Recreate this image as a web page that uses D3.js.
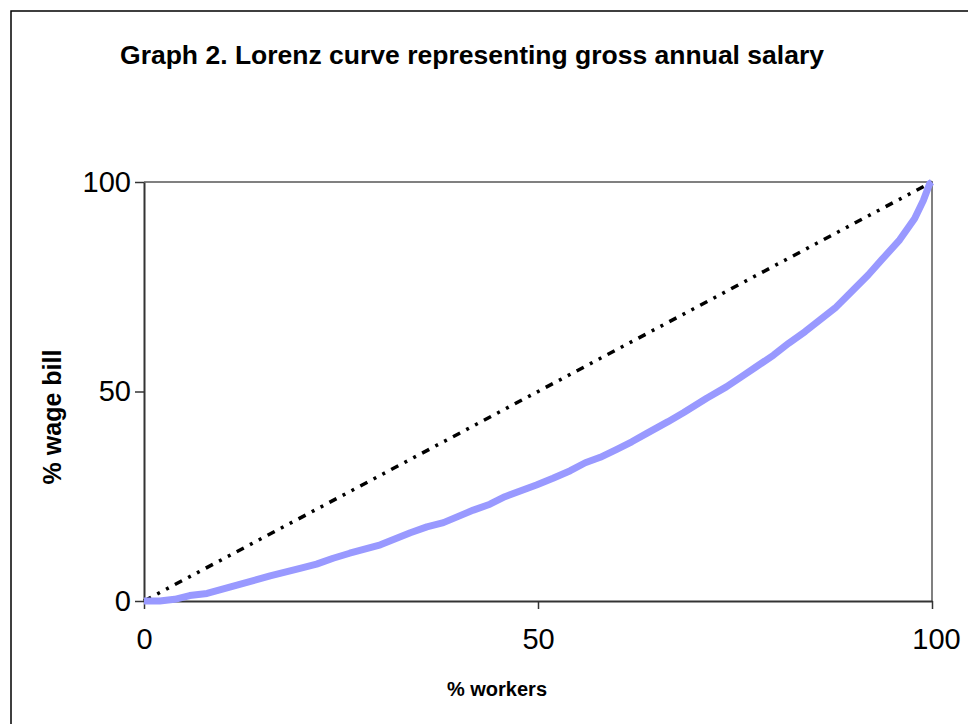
<!DOCTYPE html>
<html>
<head>
<meta charset="utf-8">
<script src="https://cdn.jsdelivr.net/npm/d3@7.9.0/dist/d3.min.js"></script>
<style>
  body { margin: 0; background: #fff; }
  svg { display: block; font-family: Arial, "Liberation Sans", sans-serif; }
</style>
</head>
<body>
<div id="chart"></div>
<script>
// Lorenz curve (% workers -> % wage bill)
const workers = [0, 2, 3.9, 5.8, 8, 11.8, 16, 19.8, 21.9, 24, 26.1, 30, 33.8, 35.9, 38, 41.8, 43.9, 45.8,
  49.8, 51.9, 54.1, 56, 57.9, 60, 61.9, 63.8, 66.5, 68.5, 71.4, 73.9, 75.8, 77.7, 79.9, 81.8, 83.9,
  85.8, 87.7, 90, 91.9, 93.6, 95.9, 97.8, 98.9, 99.7, 100];
const wageBill = [0, 0, 0.4, 1.3, 1.8, 3.8, 6.0, 7.8, 8.8, 10.2, 11.4, 13.4, 16.3, 17.7, 18.7, 21.7, 23.1, 24.9,
  27.7, 29.3, 31.1, 33.0, 34.3, 36.2, 38.0, 40.0, 42.8, 45.0, 48.4, 51.1, 53.5, 55.9, 58.7, 61.5, 64.3,
  67.1, 69.9, 74.2, 77.8, 81.4, 86.2, 91.3, 95.6, 99.6, 100];
// line of perfect equality
const equalityX = [0, 100];
const equalityY = [0, 100];
const xTicks = [0, 50, 100];
const yTicks = [0, 50, 100];

const width = 968, height = 724;
const margin = { top: 182, right: 36, bottom: 123, left: 144 };

const svg = d3.select('#chart').append('svg')
  .attr('width', width)
  .attr('height', height);

// outer chart border
svg.append('rect')
  .attr('x', 11).attr('y', 11)
  .attr('width', width).attr('height', height)
  .attr('fill', 'none').attr('stroke', '#000').attr('stroke-width', 1.5);

svg.append('text')
  .attr('x', 472).attr('y', 64)
  .attr('text-anchor', 'middle')
  .attr('font-size', 26.5).attr('font-weight', 'bold')
  .text('Graph 2. Lorenz curve representing gross annual salary');

const xScale = d3.scaleLinear().domain([0, 100]).range([margin.left, width - margin.right]);
const yScale = d3.scaleLinear().domain([0, 100]).range([height - margin.bottom, margin.top]);

// top and right frame of plot area
svg.append('path')
  .attr('d', `M${xScale(0)},${yScale(100)}H${xScale(100)}V${yScale(0)}`)
  .attr('fill', 'none').attr('stroke', '#808080').attr('stroke-width', 2);

const xAxis = svg.append('g')
  .attr('transform', `translate(0,${yScale(0)})`)
  .call(d3.axisBottom(xScale).tickValues(xTicks).tickSize(8).tickPadding(19).tickSizeOuter(0));
const yAxis = svg.append('g')
  .attr('transform', `translate(${xScale(0)},0)`)
  .call(d3.axisLeft(yScale).tickValues(yTicks).tickSize(9).tickPadding(4).tickSizeOuter(0));

for (const ax of [xAxis, yAxis]) {
  ax.select('.domain').attr('stroke', '#333').attr('stroke-width', 2);
  ax.selectAll('.tick line').attr('stroke', '#333').attr('stroke-width', 1.5);
  ax.selectAll('.tick text')
    .attr('font-size', 29)
    .attr('font-family', 'Arial, "Liberation Sans", sans-serif')
    .attr('fill', '#000');
}
xAxis.selectAll('.tick text').attr('dx', d => d === 100 ? 4 : 0);

svg.append('text')
  .attr('x', 497).attr('y', 696)
  .attr('text-anchor', 'middle')
  .attr('font-size', 20).attr('font-weight', 'bold')
  .text('% workers');

svg.append('text')
  .attr('transform', `translate(61,${417}) rotate(-90)`)
  .attr('text-anchor', 'middle')
  .attr('font-size', 25).attr('font-weight', 'bold')
  .text('% wage bill');

const line = d3.line().x(d => xScale(d[0])).y(d => yScale(d[1]));

svg.append('path')
  .datum(d3.zip(equalityX, equalityY))
  .attr('d', line)
  .attr('fill', 'none')
  .attr('stroke', '#000')
  .attr('stroke-width', 3.5)
  .attr('stroke-dasharray', '8,7,3,7,3,7');

svg.append('path')
  .datum(d3.zip(workers, wageBill))
  .attr('d', line)
  .attr('fill', 'none')
  .attr('stroke', '#9999ff')
  .attr('stroke-width', 7)
  .attr('stroke-linejoin', 'round');
</script>
</body>
</html>
